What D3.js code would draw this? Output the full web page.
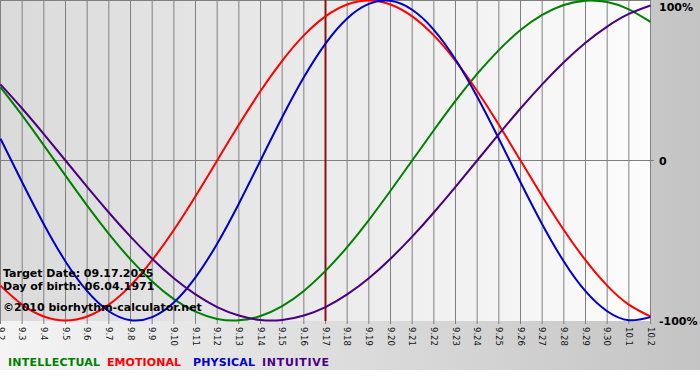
<!DOCTYPE html>
<html><head><meta charset="utf-8">
<script src="https://cdn.jsdelivr.net/npm/d3@7"></script>
<style>html,body{margin:0;padding:0;background:#fff;}svg{display:block;}</style>
</head><body>
<svg id="c" width="700" height="380"></svg>
<script>
const days = ["9.2","9.3","9.4","9.5","9.6","9.7","9.8","9.9","9.10","9.11","9.12","9.13","9.14","9.15","9.16","9.17","9.18","9.19","9.20","9.21","9.22","9.23","9.24","9.25","9.26","9.27","9.28","9.29","9.30","10.1","10.2"];
const physical = [0.136,-0.136,-0.398,-0.631,-0.817,-0.942,-0.998,-0.979,-0.888,-0.731,-0.520,-0.270,0,0.270,0.520,0.731,0.888,0.979,0.998,0.942,0.817,0.631,0.398,0.136,-0.136,-0.398,-0.631,-0.817,-0.942,-0.998,-0.979];
const emotional = [-0.782,-0.901,-0.975,-1,-0.975,-0.901,-0.782,-0.623,-0.434,-0.223,0,0.223,0.434,0.623,0.782,0.901,0.975,1,0.975,0.901,0.782,0.623,0.434,0.223,0,-0.223,-0.434,-0.623,-0.782,-0.901,-0.975];
const intellectual = [0.458,0.282,0.095,-0.095,-0.282,-0.458,-0.618,-0.756,-0.866,-0.945,-0.990,-0.999,-0.972,-0.910,-0.815,-0.690,-0.541,-0.372,-0.189,0,0.189,0.372,0.541,0.690,0.815,0.910,0.972,0.999,0.990,0.945,0.866];
const intuitive = [0.476,0.325,0.165,0,-0.165,-0.325,-0.476,-0.614,-0.736,-0.837,-0.916,-0.969,-0.997,-0.997,-0.969,-0.916,-0.837,-0.736,-0.614,-0.476,-0.325,-0.165,0,0.165,0.325,0.476,0.614,0.736,0.837,0.916,0.969];
const yTicks = [{v:1,t:"100%"},{v:0,t:"0"},{v:-1,t:"-100%"}];
const targetDay = "9.17";
const infoLines = ["Target Date: 09.17.2025","Day of birth: 06.04.1971","\u00a92010 biorhythm-calculator.net"];
const series = [
  {name:"INTELLECTUAL", color:"#008000", values:intellectual},
  {name:"EMOTIONAL", color:"#ff0000", values:emotional},
  {name:"PHYSICAL", color:"#0000cc", values:physical},
  {name:"INTUITIVE", color:"#4b0082", values:intuitive}
];

const svg = d3.select("#c");
const defs = svg.append("defs");
const g1 = defs.append("linearGradient").attr("id","bg").attr("x1","0").attr("x2","1").attr("y1","0").attr("y2","0");
g1.append("stop").attr("offset","0").attr("stop-color","#f4f4f4");
g1.append("stop").attr("offset","1").attr("stop-color","#c4c4c4");
const g2 = defs.append("linearGradient").attr("id","pbg").attr("x1","0").attr("x2","1").attr("y1","0").attr("y2","0");
g2.append("stop").attr("offset","0").attr("stop-color","#dadada");
g2.append("stop").attr("offset","1").attr("stop-color","#fcfcfc");

svg.append("rect").attr("x",0).attr("y",0).attr("width",700).attr("height",370).attr("fill","url(#bg)");

const x = d3.scalePoint().domain(days).range([0.5, 650.5]);
const y = d3.scaleLinear().domain([-1,1]).range([320.5, 0.5]);

svg.append("rect").attr("x",0).attr("y",0).attr("width",650.5).attr("height",321).attr("fill","url(#pbg)");

svg.append("line").attr("x1",0).attr("x2",650.5).attr("y1",0.5).attr("y2",0.5).attr("stroke","#808080");

svg.append("g").selectAll("line").data(days).join("line")
  .attr("x1",d=>x(d)).attr("x2",d=>x(d)).attr("y1",0).attr("y2",324)
  .attr("stroke","#808080").attr("stroke-width",1);

svg.append("line").attr("x1",0).attr("x2",654).attr("y1",y(0)).attr("y2",y(0)).attr("stroke","#808080");

svg.append("g").selectAll("text").data(days).join("text")
  .attr("transform",d=>`translate(${x(d)},327) rotate(90)`)
  .attr("dy","0.35em").attr("text-anchor","start")
  .attr("font-family","DejaVu Sans, Verdana, sans-serif").attr("font-size","8.5px").attr("fill","#111")
  .text(d=>d);

svg.append("g").selectAll("text").data(yTicks).join("text")
  .attr("x",659)
  .attr("y",d=> d.v===1 ? y(d.v)+10.5 : y(d.v)+4.5)
  .attr("font-family","DejaVu Sans, Verdana, sans-serif").attr("font-size","11px").attr("font-weight","bold").attr("fill","#000")
  .text(d=>d.t);

svg.append("line").attr("x1",x(targetDay)).attr("x2",x(targetDay)).attr("y1",0).attr("y2",321)
  .attr("stroke","#8b1010").attr("stroke-width",2);

const line = d3.line().x((d,i)=>x(days[i])).y(d=>y(d)).curve(d3.curveNatural);
svg.append("g").selectAll("path").data(series).join("path")
  .attr("d",d=>line(d.values)).attr("fill","none").attr("stroke",d=>d.color).attr("stroke-width",2);

const infoY = [277, 290, 311];
svg.append("g").selectAll("text").data(infoLines).join("text")
  .attr("x",3).attr("y",(d,i)=>infoY[i])
  .attr("font-family","DejaVu Sans, Verdana, sans-serif").attr("font-size","11px").attr("font-weight","bold").attr("fill","#000")
  .text(d=>d);

const legX = [8, 107, 193, 262];
const legW = [92, 74, 62, 67];
svg.append("g").selectAll("text").data(series).join("text")
  .attr("x",(d,i)=>legX[i]).attr("y",366)
  .attr("textLength",(d,i)=>legW[i]).attr("lengthAdjust","spacing")
  .attr("font-family","DejaVu Sans, Verdana, sans-serif").attr("font-size","11px").attr("font-weight","bold")
  .attr("fill",d=>d.color).text(d=>d.name);
</script>
</body></html>
